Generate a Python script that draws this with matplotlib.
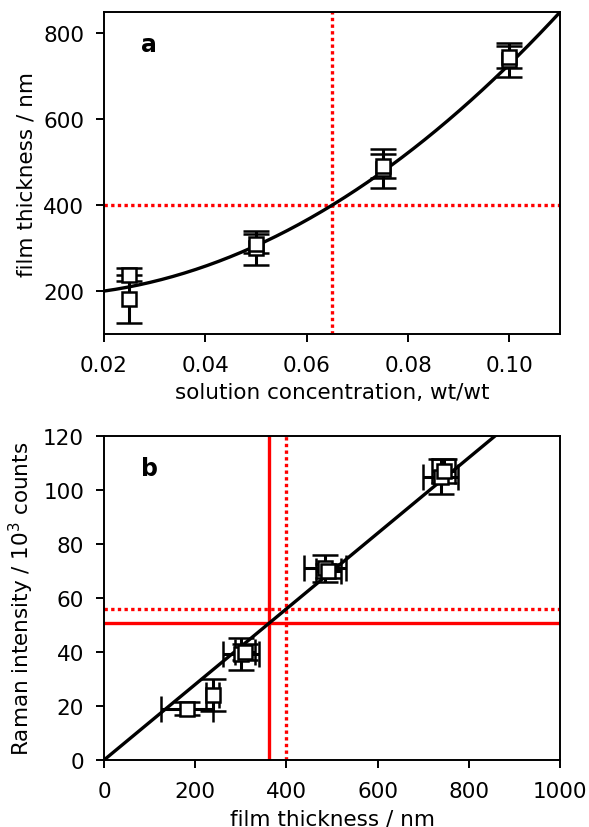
import numpy as np
import matplotlib
matplotlib.use("Agg")
import matplotlib.pyplot as plt

# panel a : epaisseur vs concentration (deux series de mesures)
conc = [0.025, 0.05, 0.075, 0.10]
thick_1 = [182, 300, 485, 738]
thick_err_1 = [56, 40, 46, 39]
thick_2 = [238, 310, 492, 745]
thick_err_2 = [15, 22, 28, 25]

# fit quadratique y = c0 + c1*(x-0.02) + c2*(x-0.02)**2
fit_a = [200, 1667, 61728]
target_conc = 0.065
target_thick = 400

# panel b : intensite Raman vs epaisseur
raman_1 = [19, 39.3, 71, 105]
raman_err_1 = [2.5, 6, 5, 6.5]
raman_2 = [24, 40, 70, 107]
raman_err_2 = [6, 3, 2.5, 4.5]

slope_b = 0.14
meas_thick = 362
meas_raman = 50.7
ref_thick = 400
ref_raman = 56

plt.rcParams["font.size"] = 15.5
plt.rcParams["axes.linewidth"] = 1.4
for ax_ in ["xtick", "ytick"]:
    plt.rcParams[f"{ax_}.major.size"] = 5.8
    plt.rcParams[f"{ax_}.major.width"] = 1.4
plt.rcParams["xtick.major.pad"] = 9.5
plt.rcParams["ytick.major.pad"] = 8.5
plt.rcParams["axes.labelpad"] = 5

fig = plt.figure(figsize=(5.89, 8.28), dpi=100)
ax1 = fig.add_axes([0.1766, 0.5954, 0.951 - 0.1766, 0.9843 - 0.5954])
ax2 = fig.add_axes([0.1766, 0.0809, 0.951 - 0.1766, 0.4722 - 0.0809])

err_kw = dict(
    fmt="s",
    color="black",
    mfc="white",
    mec="black",
    ms=10,
    mew=1.8,
    elinewidth=2.2,
    capsize=9.5,
    capthick=2.2,
)
dot = (0, (1, 1))

# --- a
xc = np.linspace(0.02, 0.11, 200)
ax1.plot(
    xc,
    fit_a[0] + fit_a[1] * (xc - 0.02) + fit_a[2] * (xc - 0.02) ** 2,
    "-",
    color="black",
    lw=2.4,
    zorder=3,
)
ax1.axvline(target_conc, color="red", ls=dot, lw=2.4, zorder=1)
ax1.axhline(target_thick, color="red", ls=dot, lw=2.4, zorder=1)
ax1.errorbar(conc, thick_1, yerr=thick_err_1, zorder=4, **err_kw)
ax1.errorbar(conc, thick_2, yerr=thick_err_2, zorder=4, **err_kw)
ax1.set_xlim(0.02, 0.11)
ax1.set_ylim(100, 850)
ax1.set_xticks([0.02, 0.04, 0.06, 0.08, 0.10])
ax1.set_xticklabels(["0.02", "0.04", "0.06", "0.08", "0.10"])
ax1.set_yticks([200, 400, 600, 800])
ax1.set_xlabel("solution concentration, wt/wt")
ax1.set_ylabel("film thickness / nm")
ax1.text(0.08, 0.9, "a", transform=ax1.transAxes, fontweight="bold",
         fontsize=17, va="center")

# --- b
xl = np.linspace(0, 1000, 50)
ax2.plot(xl, slope_b * xl, "-", color="black", lw=2.4, zorder=3)
ax2.axvline(meas_thick, color="red", ls="-", lw=2.4, zorder=1)
ax2.axhline(meas_raman, color="red", ls="-", lw=2.4, zorder=1)
ax2.axvline(ref_thick, color="red", ls=dot, lw=2.4, zorder=1)
ax2.axhline(ref_raman, color="red", ls=dot, lw=2.4, zorder=1)
ax2.errorbar(thick_1, raman_1, xerr=thick_err_1, yerr=raman_err_1, zorder=4, **err_kw)
ax2.errorbar(thick_2, raman_2, xerr=thick_err_2, yerr=raman_err_2, zorder=4, **err_kw)
ax2.set_xlim(0, 1000)
ax2.set_ylim(0, 120)
ax2.set_xticks([0, 200, 400, 600, 800, 1000])
ax2.set_yticks([0, 20, 40, 60, 80, 100, 120])
ax2.set_xlabel("film thickness / nm")
ax2.set_ylabel("Raman intensity / 10$^3$ counts")
ax2.text(0.08, 0.9, "b", transform=ax2.transAxes, fontweight="bold",
         fontsize=17, va="center")

fig.savefig("out.png", dpi=100)
